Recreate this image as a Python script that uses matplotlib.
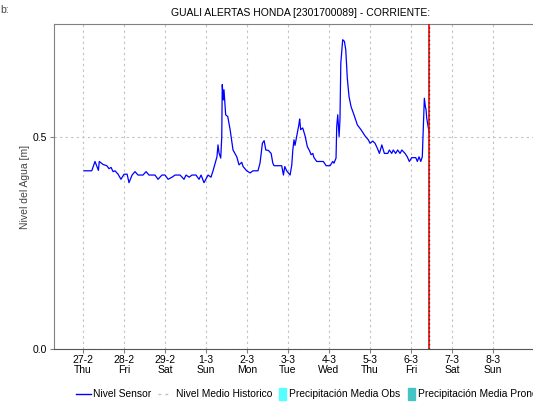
import matplotlib.pyplot as plt
from matplotlib.lines import Line2D
from matplotlib.patches import Rectangle

# hours since 27-2 00:00 and water level [m]
hours = [0.6, 5.1, 7.0, 9.0, 9.5, 11.7, 13.9, 15.2, 16.4, 17.6, 18.7, 20.5, 22.2,
         24.0, 25.8, 26.9, 28.7, 30.4, 32.2, 35.1, 36.9, 38.6, 42.1, 43.9, 46.2,
         48.0, 49.8, 52.1, 53.9, 56.8, 59.1, 60.3, 62.1, 63.8, 66.1, 67.9, 69.1,
         70.8, 73.2, 74.9, 76.1, 78.4, 79.0, 79.6, 80.6, 81.2, 81.5, 82.1, 82.5,
         83.5, 84.7, 86.1, 87.8, 90.0, 91.3, 92.9, 93.7, 95.8, 97.8, 99.5, 102.4,
         103.6, 105.0, 106.0, 107.0, 108.5, 110.1, 111.1, 111.8, 116.3, 117.3,
         118.1, 119.2, 121.2, 122.2, 122.8, 123.5, 124.1, 125.1, 126.4, 126.8,
         127.4, 128.6, 130.0, 131.3, 132.5, 133.5, 134.5, 135.2, 136.8, 140.7,
         142.3, 144.6, 146.2, 146.9, 148.1, 148.5, 149.1, 149.9, 150.4, 150.9,
         152.0, 153.0, 153.8, 154.7, 155.7, 156.9, 158.6, 160.6, 162.7, 165.1,
         167.0, 168.0, 169.6, 170.9, 172.3, 173.5, 174.9, 176.4, 178.4, 179.3,
         180.7, 181.6, 183.0, 184.2, 185.6, 186.6, 188.5, 189.8, 191.0, 192.4,
         194.8, 195.7, 196.7, 197.7, 198.6, 199.0, 199.6, 199.8, 200.4, 200.8,
         201.2, 202.0, 202.7]
nivel = [0.420, 0.420, 0.442, 0.421, 0.442, 0.435, 0.432, 0.425, 0.428, 0.418,
         0.420, 0.412, 0.400, 0.412, 0.412, 0.392, 0.410, 0.418, 0.410, 0.410,
         0.418, 0.410, 0.410, 0.400, 0.410, 0.410, 0.400, 0.405, 0.410, 0.410,
         0.400, 0.410, 0.405, 0.410, 0.410, 0.400, 0.410, 0.392, 0.410, 0.405,
         0.420, 0.453, 0.481, 0.462, 0.450, 0.500, 0.623, 0.587, 0.611, 0.552,
         0.548, 0.517, 0.469, 0.453, 0.434, 0.440, 0.430, 0.420, 0.415, 0.420,
         0.420, 0.438, 0.485, 0.491, 0.469, 0.468, 0.461, 0.438, 0.432, 0.432,
         0.410, 0.430, 0.420, 0.410, 0.434, 0.469, 0.493, 0.480, 0.502, 0.530,
         0.542, 0.517, 0.521, 0.502, 0.477, 0.468, 0.458, 0.461, 0.451, 0.442,
         0.442, 0.432, 0.432, 0.442, 0.438, 0.450, 0.524, 0.552, 0.501, 0.540,
         0.674, 0.729, 0.725, 0.705, 0.638, 0.595, 0.571, 0.552, 0.528, 0.517,
         0.502, 0.493, 0.485, 0.490, 0.485, 0.473, 0.461, 0.481, 0.461, 0.461,
         0.469, 0.461, 0.469, 0.461, 0.469, 0.461, 0.469, 0.461, 0.453, 0.442,
         0.451, 0.451, 0.442, 0.453, 0.442, 0.453, 0.500, 0.564, 0.591, 0.571,
         0.564, 0.544, 0.524, 0.509]

day_labels = ["27-2\nThu", "28-2\nFri", "29-2\nSat", "1-3\nSun", "2-3\nMon",
              "3-3\nTue", "4-3\nWed", "5-3\nThu", "6-3\nFri", "7-3\nSat", "8-3\nSun"]
now_hour = 202.5

plt.rcParams['font.family'] = ['Liberation Sans', 'DejaVu Sans']

W, H = 533, 404
fig = plt.figure(figsize=(W / 100, H / 100), dpi=100)
ax = fig.add_axes([54/W, 55/H, (547-54)/W, 325/H])

ax.plot(hours, nivel, color='blue', lw=0.9, zorder=3)

ax.axvline(now_hour, color='red', lw=1.2, zorder=4)
ax.axvline(now_hour, color='#333333', lw=1.0, ls=(0, (1, 2)), zorder=5)

ticks = [24 * i for i in range(len(day_labels))]
ax.set_xticks(ticks)
ax.set_xticklabels(day_labels, fontsize=7.5, linespacing=1.1)
ax.set_xlim(-17, 271.6)
ax.set_ylim(0, 0.766)
ax.set_yticks([0.0, 0.5])
ax.set_yticklabels(["0.0", "0.5"], fontsize=7.5)
ax.grid(True, color='#c0c0c0', ls=(0, (2, 3)), lw=0.8)
ax.tick_params(length=3, color='#808080', pad=2)
ax.tick_params(axis='x', pad=1)

for s in ['top', 'left']:
    ax.spines[s].set_color('#808080')
ax.spines['right'].set_visible(False)
ax.spines['bottom'].set_color('#555555')
ax.spines['bottom'].set_linestyle((0, (1, 1)))

ax.set_ylabel("Nivel del Agua [m]", fontsize=7.5, color='#444444', labelpad=2)
ax.set_title("GUALI ALERTAS HONDA [2301700089] - CORRIENTE:", fontsize=7.5, pad=6)
fig.text(0.0, 0.975, "b:", fontsize=7.5, color='#444444', va='center')

# legend drawn by hand (pixel positions), it runs off the right edge like the original
ly = 1 - 394 / H
fig.add_artist(Line2D([76/W, 91/W], [ly, ly], color='blue', lw=1))
fig.add_artist(Line2D([158/W, 172/W], [ly, ly], color='#c0c0c0', lw=1, ls=(0, (2, 3))))
fig.add_artist(Rectangle((279/W, ly - 6/H), 7/W, 12/H, color='#55ffff'))
fig.add_artist(Rectangle((408/W, ly - 6/H), 7/W, 12/H, color='#44c4c4'))
leg_labels = ["Nivel Sensor", "Nivel Medio Historico",
              "Precipitación Media Obs", "Precipitación Media Pronosticada"]
leg_x = [93, 176, 289, 418]
for lx, lab in zip(leg_x, leg_labels):
    fig.text(lx/W, ly, lab, fontsize=7.4, va='center', ha='left')

fig.savefig("out.png", dpi=100)
